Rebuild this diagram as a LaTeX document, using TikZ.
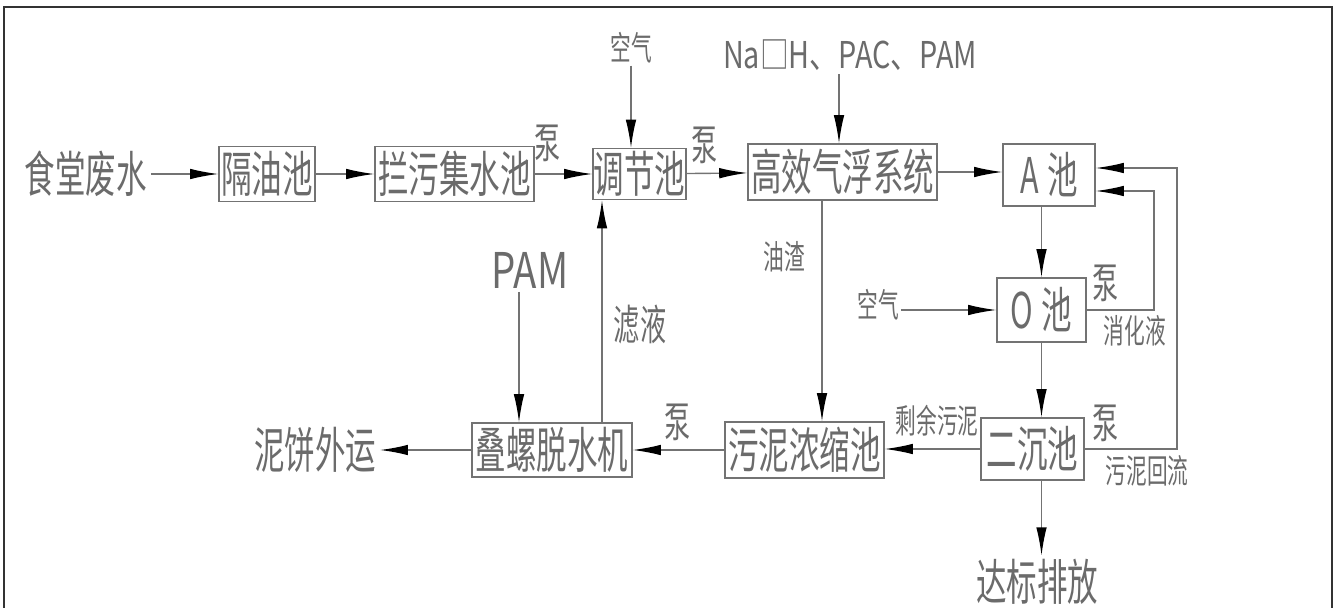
\documentclass[tikz,border=0pt]{standalone}
\usepackage{fontspec}
\setmainfont[FakeStretch=0.62]{Noto Sans CJK SC}
\newfontfamily\latfont[FakeStretch=0.78]{Noto Sans CJK SC}
\usetikzlibrary{arrows.meta}
\colorlet{ink}{black!55}
\colorlet{txt}{black!58}
\tikzset{
  tank/.style={draw=ink, line width=0.8pt, inner sep=0pt, text=txt,
    font=\fontsize{28pt}{30pt}\selectfont},
  big/.style={inner sep=2pt, text=txt, font=\fontsize{28pt}{30pt}\selectfont},
  lbl/.style={inner sep=1pt, text=txt, font=\fontsize{19pt}{20pt}\selectfont},
  pump/.style={inner sep=1pt, text=txt, font=\fontsize{24pt}{25pt}\selectfont},
  flow/.style={draw=ink, line width=0.8pt,
    -{Latex[length=16pt,width=6pt,color=black]}},
  pipe/.style={draw=ink, line width=0.8pt}
}
\begin{document}
\begin{tikzpicture}[x=0.02cm, y=-0.02cm]
  \useasboundingbox (0,0) rectangle (1336,608);
  % cadre
  \draw[line width=1pt, black!80] (4,608) -- (4,7) -- (1332,7) -- (1332,608);
  % ligne du haut
  \node[big] (sw) at (86,174) {食堂废水};
  \node[tank, minimum width=1.92cm, minimum height=1.1cm] (gy) at (267,174) {隔油池};
  \node[tank, minimum width=3.18cm, minimum height=1.1cm] (lw) at (454.5,174) {拦污集水池};
  \node[tank, minimum width=1.86cm, minimum height=1.02cm] (tj) at (639.5,174) {调节池};
  \node[tank, minimum width=3.78cm, minimum height=1.12cm] (qf) at (842.5,172) {高效气浮系统};
  \node[tank, minimum width=1.84cm, minimum height=1.24cm] (ac) at (1049,175) {A\,池};
  \node[pump] (b1) at (548,143) {泵};
  \node[pump] (b2) at (705,145) {泵};
  \node[lbl] (kq1) at (631,48) {空气};
  \node[inner sep=2pt, text=txt, font=\latfont\fontsize{21pt}{22pt}\selectfont] (yj) at (850,55) {Na□H、PAC、PAM};
  % colonne de droite
  \node[tank, minimum width=1.78cm, minimum height=1.28cm] (oc) at (1041.5,310) {O\,池};
  \node[tank, minimum width=2.06cm, minimum height=1.24cm] (ec) at (1032.5,449) {二沉池};
  \node[big] (db) at (1037,582) {达标排放};
  \node[lbl] (kq2) at (878,305) {空气};
  \node[pump] (b3) at (1106,283) {泵};
  \node[lbl] (xh) at (1135,331) {消化液};
  \node[pump] (b4) at (1106,423) {泵};
  \node[lbl] (wh) at (1147,471) {污泥回流};
  % ligne du bas
  \node[tank, minimum width=3.18cm, minimum height=1.12cm] (ns) at (804.5,450) {污泥浓缩池};
  \node[tank, minimum width=3.2cm, minimum height=1.08cm] (dl) at (552,450) {叠螺脱水机};
  \node[big] (ny) at (315,450) {泥饼外运};
  \node[lbl] (sy) at (937,421) {剩余污泥};
  \node[pump] (b5) at (678,422) {泵};
  \node[lbl] (yz) at (784,257) {油渣};
  \node[pump] (ly) at (640,325) {滤液};
  \node[inner sep=2pt, text=txt, font=\latfont\fontsize{28pt}{30pt}\selectfont] (pam) at (530,270) {PAM};
  % points de passage
  \coordinate (r1) at (1154,191);
  \coordinate (r2) at (1177,168);
  \coordinate (zx) at (822,0);
  \coordinate (lx) at (602,0);
  \coordinate (px) at (519,0);
  % fleches
  \draw[flow] (sw) -- (gy);
  \draw[flow] (gy) -- (lw);
  \draw[flow] (lw) -- (tj);
  \draw[flow] (tj) -- (qf);
  \draw[flow] (qf.east) -- (qf.east -| ac.west);
  \draw[flow] (kq1.south) -- (kq1.south |- tj.north);
  \draw[flow] (yj.south -| 839,0) -- (qf.north -| 839,0);
  \draw[flow] (oc.north |- ac.south) -- (oc.north);
  \draw[flow] (kq2.east |- oc.west) -- (oc.west);
  \draw[flow] (oc.east) -| (r1) -- (r1 -| ac.east);
  \draw[flow] (ec.east) -| (r2) -- (r2 -| ac.east);
  \draw[flow] (oc.south) -- (oc.south |- ec.north);
  \draw[flow] (oc.south |- ec.south) -- (oc.south |- db.north);
  \draw[flow] (ec.west) -- (ec.west -| ns.east);
  \draw[flow] (qf.south -| zx) -- (ns.north -| zx);
  \draw[flow] (ns.west) -- (ns.west -| dl.east);
  \draw[flow] (pam.south -| px) -- (dl.north -| px);
  \draw[flow] (dl.north -| lx) -- (tj.south -| lx);
  \draw[flow] (dl.west) -- (ny.east);
\end{tikzpicture}
\end{document}
